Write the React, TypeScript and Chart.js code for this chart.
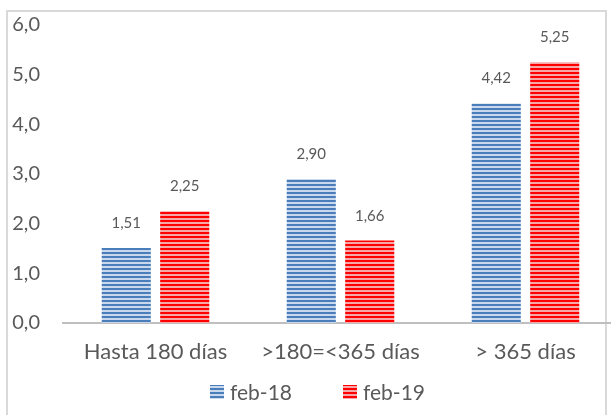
import { useEffect, useRef } from 'react';
import { Chart, registerables } from 'chart.js';

Chart.register(...registerables);

const categories = ['Hasta 180 días', '>180=<365 días', '> 365 días'];
const seriesNames = ['feb-18', 'feb-19'];
const feb18 = [1.51, 2.9, 4.42];
const feb19 = [2.25, 1.66, 5.25];
const yTicks = [0, 1, 2, 3, 4, 5, 6];

const FONT = 'Lato, "DejaVu Sans", sans-serif';
const TEXT = '#595959';

function makePattern(dark: string, light: string): CanvasPattern | string {
  const c = document.createElement('canvas');
  c.width = 4;
  c.height = 4;
  const g = c.getContext('2d');
  if (!g) return dark;
  g.fillStyle = light;
  g.fillRect(0, 0, 4, 4);
  g.fillStyle = dark;
  g.fillRect(0, 0, 4, 2);
  const p = g.createPattern(c, 'repeat');
  return p || dark;
}

const fmt = (v: number, d: number) => v.toFixed(d).replace('.', ',');

export default function App() {
  const ref = useRef<HTMLCanvasElement | null>(null);

  useEffect(() => {
    const canvas = ref.current;
    if (!canvas) return;
    const blue = makePattern('#4a7ebb', '#c9d8ec');
    const red = makePattern('#ff0000', '#f6a8a8');

    const labelPlugin = {
      id: 'valueLabels',
      afterDatasetsDraw(chart: any) {
        const ctx = chart.ctx;
        ctx.save();
        ctx.font = `15px ${FONT}`;
        ctx.fillStyle = TEXT;
        ctx.textAlign = 'center';
        ctx.textBaseline = 'alphabetic';
        chart.data.datasets.forEach((ds: any, i: number) => {
          const meta = chart.getDatasetMeta(i);
          meta.data.forEach((el: any, j: number) => {
            ctx.fillText(fmt(ds.data[j], 2), el.x, el.y - 20);
          });
        });
        ctx.restore();
      },
    };

    const legendPlugin = {
      id: 'customLegend',
      afterDraw(chart: any) {
        const ctx = chart.ctx;
        ctx.save();
        ctx.font = `21px ${FONT}`;
        ctx.textBaseline = 'middle';
        ctx.textAlign = 'left';
        const box = 14;
        const gapText = 6;
        const items = chart.data.datasets.map((ds: any) => ({
          label: ds.label,
          fill: ds.backgroundColor,
          w: ctx.measureText(ds.label).width,
        }));
        const gapItem = 51;
        let total = 0;
        items.forEach((it: any, i: number) => {
          total += box + gapText + it.w + (i < items.length - 1 ? gapItem : 0);
        });
        let x = 317.5 - total / 2;
        const cy = 392;
        items.forEach((it: any) => {
          ctx.fillStyle = it.fill;
          ctx.fillRect(x, cy - box / 2, box, box);
          x += box + gapText;
          ctx.fillStyle = TEXT;
          ctx.fillText(it.label, x, cy + 1);
          x += it.w + gapItem;
        });
        ctx.restore();
      },
    };

    const chart = new Chart(canvas, {
      type: 'bar',
      data: {
        labels: categories,
        datasets: [
          { label: seriesNames[0], data: feb18, backgroundColor: blue as any, borderWidth: 0 },
          { label: seriesNames[1], data: feb19, backgroundColor: red as any, borderWidth: 0 },
        ],
      },
      options: {
        responsive: false,
        animation: false,
        devicePixelRatio: 1,
        layout: { autoPadding: false, padding: { top: 25, left: 0, right: 18, bottom: 0 } },
        datasets: { bar: { categoryPercentage: 0.632, barPercentage: 0.84 } },
        plugins: {
          legend: { display: false },
          tooltip: { enabled: false },
        },
        scales: {
          x: {
            grid: { display: false, drawTicks: false },
            border: { display: true, color: '#bfbfbf', width: 2 },
            ticks: {
              color: TEXT,
              font: { family: FONT, size: 22 },
              padding: 16,
              maxRotation: 0,
              autoSkip: false,
            },
            afterFit: (s: any) => {
              s.height = 92;
            },
          },
          y: {
            min: yTicks[0],
            max: yTicks[yTicks.length - 1],
            afterBuildTicks: (s: any) => {
              s.ticks = yTicks.map((v) => ({ value: v }));
            },
            grid: { display: false, drawTicks: false },
            border: { display: false },
            ticks: {
              color: TEXT,
              font: { family: FONT, size: 20 },
              padding: 23,
              callback: (v: any) => fmt(Number(v), 1),
            },
            afterFit: (s: any) => {
              s.width = 63;
              s.paddingTop = 0;
              s.paddingBottom = 0;
            },
          },
        },
      },
      plugins: [labelPlugin, legendPlugin],
    });
    return () => chart.destroy();
  }, []);

  return (
    <div
      style={{
        position: 'fixed',
        left: 0,
        top: 0,
        width: 611,
        height: 415,
        overflow: 'hidden',
        background: '#fff',
      }}
    >
      <div
        style={{
          position: 'absolute',
          left: 6,
          top: 10,
          width: 601,
          height: 430,
          border: '2px solid #d9d9d9',
          boxSizing: 'border-box',
        }}
      />
      <canvas
        ref={ref}
        width={636}
        height={415}
        style={{ position: 'absolute', left: 0, top: 0, width: 636, height: 415 }}
      />
    </div>
  );
}
